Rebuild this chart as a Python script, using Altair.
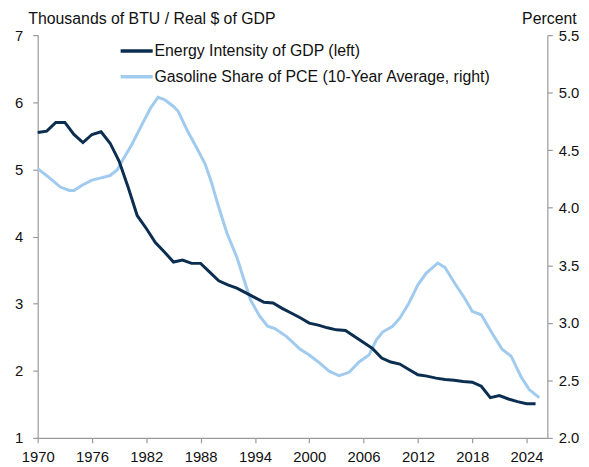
import altair as alt
import pandas as pd

# ---- data ----
energy_years = list(range(1970, 2026))
energy_vals = [5.55, 5.57, 5.70, 5.70, 5.52, 5.40, 5.52, 5.56, 5.39, 5.12,
               4.73, 4.31, 4.12, 3.91, 3.77, 3.62, 3.65, 3.60, 3.60, 3.47,
               3.34, 3.28, 3.23, 3.16, 3.09, 3.02, 3.01, 2.93, 2.86, 2.79,
               2.71, 2.68, 2.64, 2.61, 2.60, 2.51, 2.42, 2.33, 2.19, 2.13,
               2.10, 2.02, 1.94, 1.92, 1.89, 1.87, 1.86, 1.84, 1.83, 1.77,
               1.60, 1.63, 1.58, 1.54, 1.51, 1.51]

gas_years = [1970.0, 1971.3, 1972.5, 1973.5, 1974.0, 1975.0, 1976.0, 1977.0,
             1978.0, 1978.8, 1979.5, 1980.4, 1981.5, 1982.5, 1983.3, 1984.0,
             1985.0, 1985.5, 1986.6, 1987.5, 1988.5, 1989.2, 1989.9, 1990.9,
             1992.0, 1993.5, 1994.0, 1994.5, 1995.4, 1996.2, 1997.5, 1999.0,
             2000.0, 2001.0, 2002.2, 2003.3, 2004.4, 2005.5, 2006.6, 2007.4,
             2008.1, 2009.2, 2010.0, 2011.0, 2012.0, 2012.9, 2014.2, 2015.0,
             2016.1, 2017.2, 2018.0, 2019.0, 2020.2, 2021.3, 2022.3, 2023.4,
             2024.3, 2025.4]
gas_vals = [4.34, 4.26, 4.18, 4.15, 4.15, 4.20, 4.24, 4.26,
            4.28, 4.33, 4.43, 4.55, 4.72, 4.87, 4.96, 4.94,
            4.88, 4.84, 4.66, 4.53, 4.38, 4.22, 4.03, 3.78,
            3.57, 3.20, 3.13, 3.06, 2.97, 2.95, 2.88, 2.77,
            2.72, 2.66, 2.58, 2.54, 2.57, 2.66, 2.72, 2.85,
            2.92, 2.97, 3.04, 3.17, 3.33, 3.43, 3.52, 3.48,
            3.34, 3.21, 3.10, 3.07, 2.91, 2.77, 2.71, 2.53,
            2.42, 2.35]

series_names = ["Energy Intensity of GDP (left)",
                "Gasoline Share of PCE (10-Year Average, right)"]
series_colors = ["#0b2d50", "#a0cbee"]
x_ticks = [1970, 1976, 1982, 1988, 1994, 2000, 2006, 2012, 2018, 2024]
left_ticks = [1, 2, 3, 4, 5, 6, 7]
right_ticks = [2.0, 2.5, 3.0, 3.5, 4.0, 4.5, 5.0, 5.5]

energy_df = pd.DataFrame({"year": energy_years, "value": energy_vals,
                          "series": series_names[0]})
gas_df = pd.DataFrame({"year": gas_years, "value": gas_vals,
                       "series": series_names[1]})

FONT = "Liberation Sans"
AX_GRAY = "#9a9a9a"

x_enc = alt.X("year:Q",
              scale=alt.Scale(domain=[1970, 2026.3], nice=False, zero=False),
              axis=alt.Axis(values=x_ticks, format="d", title=None,
                            labelFontSize=15, labelPadding=7, tickSize=5,
                            labelFlush=False))

color_enc = alt.Color(
    "series:N",
    scale=alt.Scale(domain=series_names, range=series_colors),
    legend=alt.Legend(orient="none", legendX=82, legendY=-2, title=None,
                      symbolType="stroke", symbolSize=1050,
                      symbolStrokeWidth=3.5, labelFontSize=16,
                      labelOffset=0, rowPadding=-1, labelLimit=400,
                      labelFont=FONT, labelColor="#111111"))

gas = alt.Chart(gas_df).mark_line(strokeWidth=3).encode(
    x=x_enc,
    y=alt.Y("value:Q",
            scale=alt.Scale(domain=[2.0, 5.5], nice=False, zero=False),
            axis=alt.Axis(orient="right", values=right_ticks, format=".1f",
                          title="Percent", titleAngle=0, titleAlign="left",
                          titleBaseline="alphabetic", titleX=-26, titleY=-12,
                          labelFontSize=15, labelPadding=6, tickSize=5)),
    color=color_enc,
)

energy = alt.Chart(energy_df).mark_line(strokeWidth=3).encode(
    x=x_enc,
    y=alt.Y("value:Q",
            scale=alt.Scale(domain=[1, 7], nice=False, zero=False),
            axis=alt.Axis(orient="left", values=left_ticks, format="d",
                          title="Thousands of BTU / Real $ of GDP",
                          titleAngle=0, titleAlign="left",
                          titleBaseline="alphabetic", titleX=-10, titleY=-12,
                          labelFontSize=15, labelPadding=10, tickSize=5)),
    color=color_enc,
)

chart = (
    alt.layer(gas, energy)
    .resolve_scale(y="independent")
    .properties(width=515, height=407,
                autosize=alt.AutoSizeParams(type="none"),
                padding={"left": 30, "top": 25, "right": 34, "bottom": 28})
    .configure_view(stroke=None)
    .configure_axis(grid=False, domainColor=AX_GRAY, tickColor=AX_GRAY,
                    domainWidth=1.2, tickWidth=1.2,
                    labelFont=FONT, titleFont=FONT, labelColor="#111111",
                    titleColor="#111111", titleFontSize=16,
                    titleFontWeight="normal")
)

chart.save("out.html", embed_options={"renderer": "svg", "actions": False})
